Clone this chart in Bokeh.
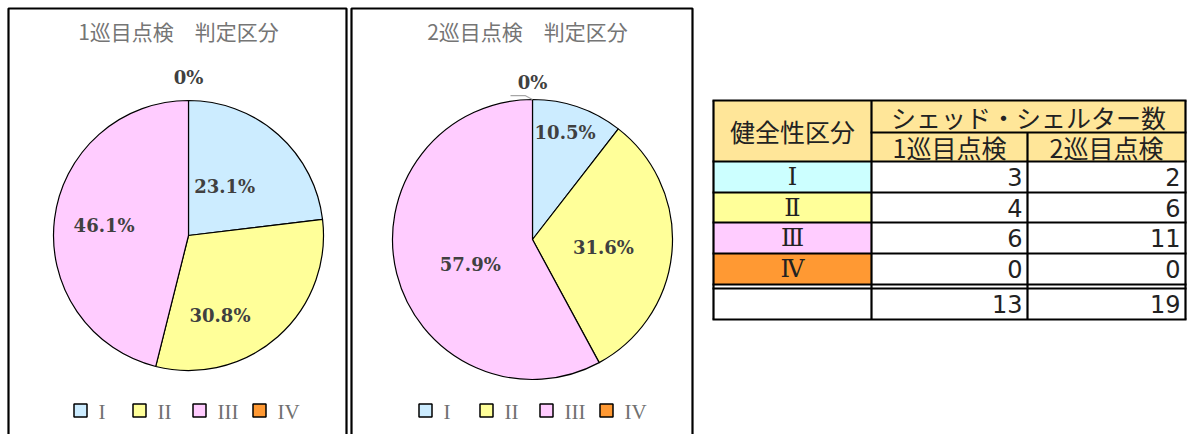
import math
from bokeh.plotting import figure
from bokeh.models import Range1d
from bokeh.core.properties import value
from bokeh.embed import file_html
from bokeh.resources import INLINE

# ---------------- data ----------------
categories = ["Ⅰ", "Ⅱ", "Ⅲ", "Ⅳ"]
legend_labels = ["I", "II", "III", "IV"]
pie_titles = ["1巡目点検　判定区分", "2巡目点検　判定区分"]
pct_1 = [23.1, 30.8, 46.1, 0.0]
pct_2 = [10.5, 31.6, 57.9, 0.0]
counts_1 = [3, 4, 6, 0]
counts_2 = [2, 6, 11, 0]
totals = [13, 19]
table_head = ["健全性区分", "シェッド・シェルター数", "1巡目点検", "2巡目点検"]

# ---------------- styles / layout ----------------
W, H = 1189, 434
pie_colors = ["#CCECFF", "#FFFF99", "#FFCCFF", "#FF9933"]
row_colors = ["#CCFFFF", "#FFFF99", "#FFCCFF", "#FF9933"]
header_color = "#FFE699"


def Y(py):
    return H - py


p = figure(width=W, height=H, x_range=Range1d(0, W), y_range=Range1d(0, H),
           x_axis_type=None, y_axis_type=None, output_backend="svg",
           toolbar_location=None, min_border=0)
p.grid.visible = False
p.outline_line_color = None
p.background_fill_color = "white"

# chart boxes
boxes = [(8, 346), (351, 692)]
for (l, r) in boxes:
    p.quad(left=[l], right=[r], top=[Y(8)], bottom=[Y(445)], fill_color=None,
           line_color="black", line_width=2.2)

pies = [
    dict(pct=pct_1, cx=188, cy=235, R=135, title_x=178,
         lr=[0.45, 0.64, 0.63, 1.17], la=[5, -20, 0, 0], leader=False,
         leg_sq=[80, 139, 199, 259], leg_tx=[98, 157, 217, 277]),
    dict(pct=pct_2, cx=532, cy=239, R=140, title_x=527,
         lr=[0.80, 0.51, 0.48, 1.12], la=[2, -2, 8, 0], leader=True,
         leg_sq=[425, 486, 546, 606], leg_tx=[443, 504, 564, 624]),
]

for k, pie in enumerate(pies):
    vals = pie["pct"]
    tot = sum(vals)
    cx, cy, R = pie["cx"], Y(pie["cy"]), pie["R"]
    cum = 0.0
    for i, v in enumerate(vals):
        a0 = math.pi / 2 - 2 * math.pi * cum / tot
        cum += v
        a1 = math.pi / 2 - 2 * math.pi * cum / tot
        if v > 0:
            p.wedge(x=[cx], y=[cy], radius=R, start_angle=[a0], end_angle=[a1],
                    direction="clock", fill_color=pie_colors[i],
                    line_color="black", line_width=1.2)
        mid = (a0 + a1) / 2 + math.radians(pie["la"][i])
        rr = pie["lr"][i] * R
        lx = cx + rr * math.cos(mid)
        ly = cy + rr * math.sin(mid)
        txt = ("%.1f%%" % v) if v > 0 else "0%"
        p.text(x=[lx], y=[ly], text=[txt], text_align="center",
               text_baseline="middle", text_font=value("DejaVu Serif"),
               text_font_style="bold", text_font_size=value("18px"),
               text_color="#404040")
        if v == 0 and pie["leader"]:
            p.line(x=[lx - 22, lx - 7, cx], y=[ly - 13, ly - 13, cy + R],
                   line_color="#A6A6A6", line_width=1.2)
    # title
    p.text(x=[pie["title_x"]], y=[Y(30)], text=[pie_titles[k]],
           text_align="center", text_baseline="middle",
           text_font=value("Noto Sans CJK JP"), text_font_size=value("21px"),
           text_color="#757575")
    # legend
    for i, lab in enumerate(legend_labels):
        p.rect(x=[pie["leg_sq"][i]], y=[Y(410)], width=13, height=13,
               fill_color=pie_colors[i], line_color="black", line_width=1.5)
        p.text(x=[pie["leg_tx"][i]], y=[Y(411)], text=[lab],
               text_align="left", text_baseline="middle",
               text_font=value("Liberation Serif"), text_font_size=value("21px"),
               text_color="#707070")

# ---------------- table ----------------
cx_edges = [713, 871, 1027, 1185]
r_h1, r_h2, r_body = 100, 132, 161
row_edges = [161, 192, 222, 253, 284]
tot_top, tot_bot = 288, 319

p.quad(left=[cx_edges[0]], right=[cx_edges[3]], top=[Y(r_h1)], bottom=[Y(r_body)],
       fill_color=header_color, line_color=None)
for i in range(len(categories)):
    p.quad(left=[cx_edges[0]], right=[cx_edges[1]], top=[Y(row_edges[i])],
           bottom=[Y(row_edges[i + 1])], fill_color=row_colors[i], line_color=None)

lw = 2.2
hsegs = [(r_h1, 713, 1185), (r_h2, 871, 1185)] + \
        [(y, 713, 1185) for y in row_edges] + [(tot_top, 713, 1185), (tot_bot, 713, 1185)]
for (y, x0, x1) in hsegs:
    p.segment(x0=[x0 - 1], y0=[Y(y)], x1=[x1 + 1], y1=[Y(y)], line_color="black", line_width=lw)
vsegs = [(713, r_h1, tot_bot), (871, r_h1, tot_bot), (1027, r_h2, tot_bot), (1185, r_h1, tot_bot)]
for (x, y0, y1) in vsegs:
    p.segment(x0=[x], y0=[Y(y0)], x1=[x], y1=[Y(y1)], line_color="black", line_width=lw)

font_jp = value("Noto Sans CJK JP")
fs = value("25px")
tc = "#222222"
p.text(x=[(cx_edges[0] + cx_edges[1]) / 2], y=[Y((r_h1 + r_body) / 2)], text=[table_head[0]],
       text_align="center", text_baseline="middle", text_font=font_jp, text_font_size=fs,
       text_color=tc)
p.text(x=[(cx_edges[1] + cx_edges[3]) / 2], y=[Y((r_h1 + r_h2) / 2)], text=[table_head[1]],
       text_align="center", text_baseline="middle", text_font=font_jp, text_font_size=fs,
       text_color=tc)
for j in range(2):
    p.text(x=[(cx_edges[1 + j] + cx_edges[2 + j]) / 2], y=[Y((r_h2 + r_body) / 2)],
           text=[table_head[2 + j]], text_align="center", text_baseline="middle",
           text_font=font_jp, text_font_size=fs, text_color=tc)

num_font = value("DejaVu Sans")
num_fs = value("24px")
for i, cat in enumerate(categories):
    yc = Y((row_edges[i] + row_edges[i + 1]) / 2)
    p.text(x=[(cx_edges[0] + cx_edges[1]) / 2], y=[yc], text=[cat], text_align="center",
           text_baseline="middle", text_font=value("DejaVu Serif"), text_font_size=value("24px"),
           text_color=tc)
    for j, cnt in enumerate([counts_1[i], counts_2[i]]):
        p.text(x=[cx_edges[2 + j] - 5], y=[yc], text=[str(cnt)], text_align="right",
               text_baseline="middle", text_font=num_font, text_font_size=num_fs,
               text_color=tc)
for j, t in enumerate(totals):
    p.text(x=[cx_edges[2 + j] - 5], y=[Y((tot_top + tot_bot) / 2)], text=[str(t)],
           text_align="right", text_baseline="middle", text_font=num_font,
           text_font_size=num_fs, text_color=tc)

open("out.html", "w").write(file_html(p, INLINE))
